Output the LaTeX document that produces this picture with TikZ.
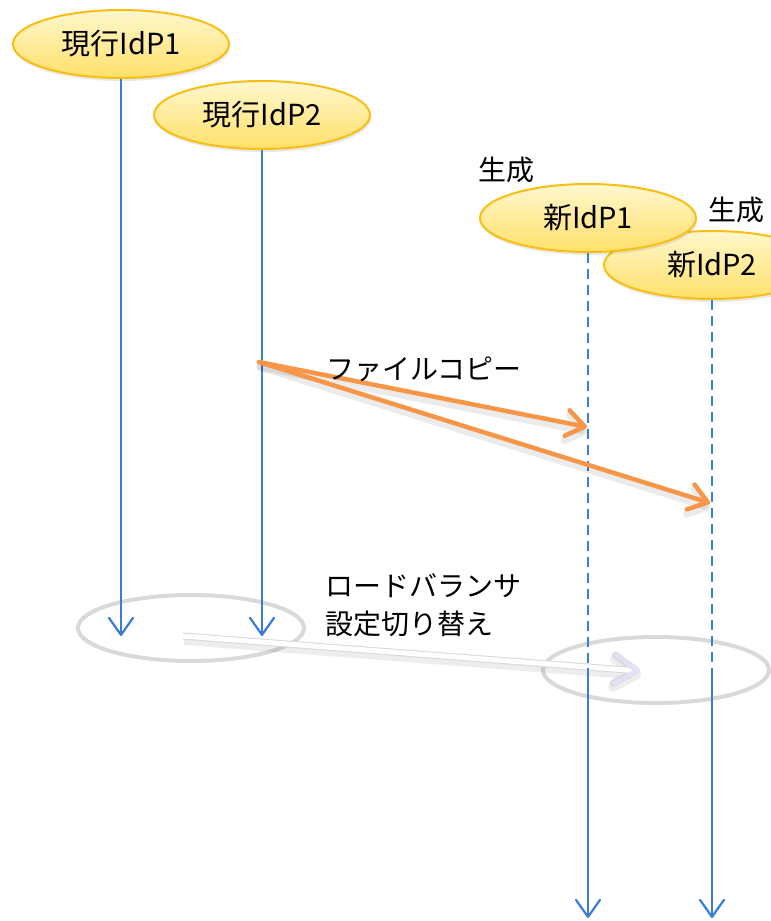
\documentclass[tikz,border=0pt]{standalone}
\usepackage{fontspec}
\setmainfont{Noto Sans CJK JP}
\usetikzlibrary{shapes.geometric,arrows.meta,shadows}

\definecolor{lifeblue}{RGB}{58,125,217}
\definecolor{copyorange}{RGB}{247,150,70}
\definecolor{idpborder}{RGB}{248,190,20}
\definecolor{idptop}{RGB}{255,247,205}
\definecolor{idpbottom}{RGB}{255,224,105}
\definecolor{lbgray}{RGB}{217,217,217}
\definecolor{lavender}{RGB}{230,222,242}

\begin{document}
\begin{tikzpicture}[x=1pt,y=-1pt,
  idp/.style={ellipse, draw=idpborder, line width=2pt, top color=idptop, bottom color=idpbottom,
    minimum width=216pt, minimum height=68pt, inner sep=0pt,
    font=\fontsize{29}{34}\selectfont,
    drop shadow={shadow xshift=1pt,shadow yshift=-3pt,opacity=0.18}},
  txt/.style={font=\fontsize{28}{38}\selectfont, inner sep=0pt},
  lifeline/.style={draw=lifeblue, line width=2.2pt},
  dashline/.style={lifeline, dash pattern=on 10pt off 6pt},
  blueend/.style={-{Straight Barb[length=17pt,width=24pt,round]}},
  copyarrow/.style={draw=copyorange, line width=4.5pt, line cap=round,
    -{Straight Barb[length=18pt,width=26pt,round]}},
  copyshadow/.style={draw=black, opacity=0.08, line width=7pt, line cap=round,
    -{Straight Barb[length=18pt,width=26pt,round]}},
  lbring/.style={ellipse, draw=lbgray, line width=4pt, minimum width=226pt, minimum height=66pt, inner sep=0pt},
  switchshadow/.style={draw=black, opacity=0.07, line width=10pt, -{Straight Barb[length=22pt,width=28pt,round]}},
  switchborder/.style={draw=lbgray, line width=7pt, -{Straight Barb[length=22pt,width=28pt,round]}},
  switchinner/.style={draw=white, line width=5pt, -{Straight Barb[length=22pt,width=28pt,round,color=lavender]}}
]
\clip (0,0) rectangle (771,921);
\useasboundingbox (0,0) rectangle (771,921);
\fill[white] (0,0) rectangle (771,921);

% load balancer rings
\node[lbring] (oldlb) at (191,628) {};
\node[lbring] (newlb) at (656,670) {};

% IdP nodes
\node[idp] (cur1) at (121,44) {現行IdP1};
\node[idp] (cur2) at (262,115) {現行IdP2};
\node[idp] (new2) at (712,265) {新IdP2};
\node[idp] (new1) at (588,218) {新IdP1};

\node[txt] (gen1) at (506,170) {生成};
\node[txt] (gen2) at (736,210) {生成};

% switch arrow
\coordinate (swfrom) at (183,636);
\coordinate (swto) at (640,671);
\draw[switchshadow] ([shift={(1,4)}]swfrom) -- ([shift={(1,4)}]swto);
\draw[switchborder] (swfrom) -- (swto);
\draw[switchinner] (swfrom) -- (swto);

% lifelines
\coordinate (end1) at (121,636);
\coordinate (end2) at (262,636);
\coordinate (sw1) at (588,668);
\coordinate (sw2) at (712,668);
\coordinate (end3) at (588,918);
\coordinate (end4) at (712,918);
\draw[lifeline,blueend] (cur1.south) -- (end1);
\draw[lifeline,blueend] (cur2.south) -- (end2);
\draw[dashline] (new1.south) -- (sw1);
\draw[dashline] (new2.south) -- (sw2);
\draw[lifeline,blueend] (sw1) -- (end3);
\draw[lifeline,blueend] (sw2) -- (end4);

% file copy arrows
\coordinate (copyfrom) at (259,362);
\coordinate (copyto1) at (587,427);
\coordinate (copyto2) at (710,503);
\draw[copyshadow] ([shift={(1,5)}]copyfrom) -- ([shift={(1,5)}]copyto1);
\draw[copyshadow] ([shift={(1,5)}]copyfrom) -- ([shift={(1,5)}]copyto2);
\draw[copyarrow] (copyfrom) -- (copyto1);
\draw[copyarrow] (copyfrom) -- (copyto2);

\node[txt, anchor=west] (copylbl) at (326,369) {ファイルコピー};
\node[txt, anchor=north west, align=left] (lblbl) at (325,573) {ロードバランサ\\設定切り替え};
\end{tikzpicture}
\end{document}
